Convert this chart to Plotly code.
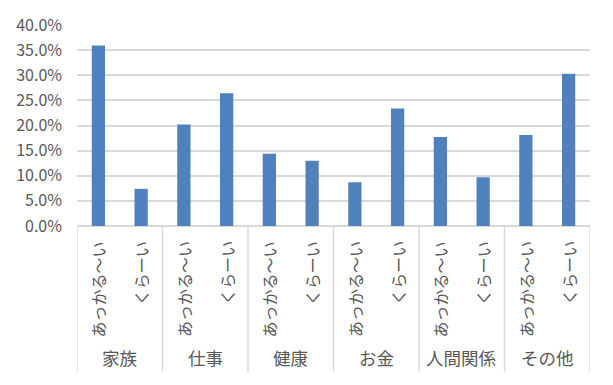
import plotly.graph_objects as go

groups = ["家族", "仕事", "健康", "お金", "人間関係", "その他"]
subs = ["あっかる〜い", "くらーい"]
values = [0.359, 0.074, 0.202, 0.264, 0.144, 0.130, 0.087, 0.234, 0.177, 0.097, 0.181, 0.303]
y_ticks = [0, 0.05, 0.10, 0.15, 0.20, 0.25, 0.30, 0.35, 0.40]

FONT = "Noto Sans CJK JP"
GRAY = "#595959"

n = len(values)
xs = list(range(n))

fig = go.Figure()
fig.add_trace(go.Bar(x=xs, y=values, width=0.31, marker=dict(color="#4F81BD", line=dict(width=0)),
                     hoverinfo="y"))

annotations = []
shapes = []
for i, x in enumerate(xs):
    annotations.append(dict(x=x, xref="x", y=0, yref="paper", yshift=-13,
                            text=subs[i % len(subs)], showarrow=False, textangle=-90,
                            xanchor="center", yanchor="top",
                            font=dict(family=FONT, size=16, color=GRAY)))
for g, name in enumerate(groups):
    center = g * len(subs) + (len(subs) - 1) / 2
    annotations.append(dict(x=center, xref="x", y=-0.655, yref="paper",
                            text=name, showarrow=False, xanchor="center", yanchor="middle",
                            font=dict(family=FONT, size=17.5, color=GRAY)))
for g in range(len(groups) + 1):
    xb = g * len(subs) - 0.5
    shapes.append(dict(type="line", xref="x", yref="paper", x0=xb, x1=xb, y0=0, y1=-0.725,
                       line=dict(color="#D9D9D9", width=1.5)))

fig.update_layout(
    width=613, height=385,
    margin=dict(l=77, r=23, t=23, b=159),
    paper_bgcolor="white", plot_bgcolor="white",
    showlegend=False,
    annotations=annotations, shapes=shapes,
    font=dict(family=FONT, color=GRAY),
    xaxis=dict(range=[-0.5, n - 0.5], showticklabels=False, showgrid=False, zeroline=False,
               showline=False, ticks="", fixedrange=True),
    yaxis=dict(range=[0, 0.40], tickvals=y_ticks, tickformat=".1%", showgrid=True,
               gridcolor="#D9D9D9", gridwidth=1.6, zeroline=True, zerolinecolor="#D9D9D9",
               zerolinewidth=1.6, showline=False, ticks="", ticklabelstandoff=14,
               tickfont=dict(family=FONT, size=16, color=GRAY), fixedrange=True),
)

fig.write_html("out.html", config={"displayModeBar": False},
               post_script="document.body.style.margin='0';")
